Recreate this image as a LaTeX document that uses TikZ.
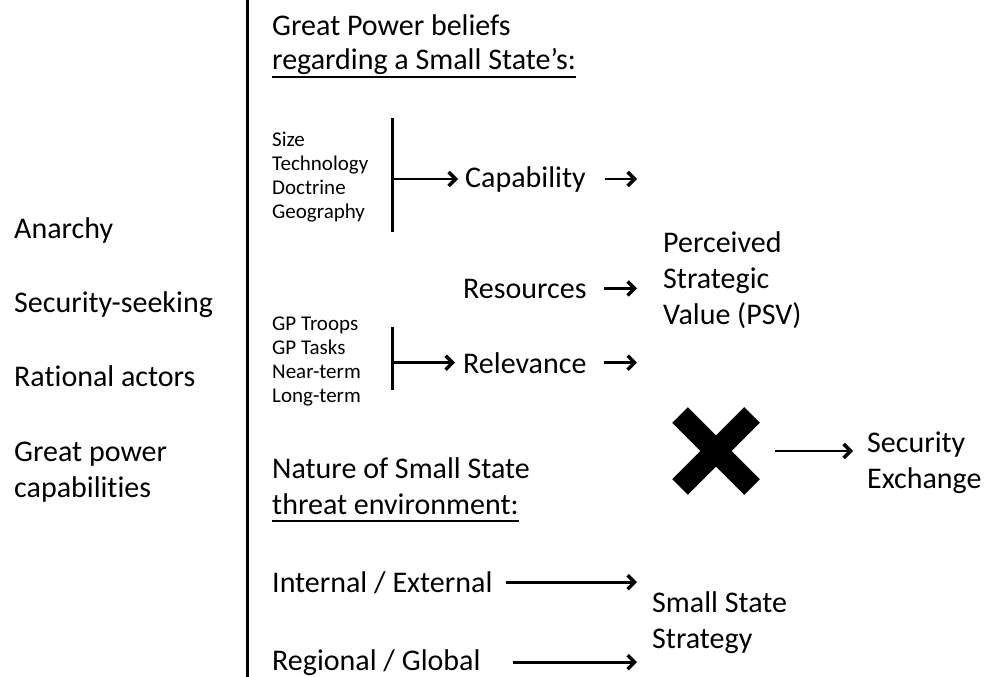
\documentclass[tikz,border=0pt]{standalone}
\usepackage{fontspec}
\setmainfont{Carlito}[Ligatures=NoCommon]
\usetikzlibrary{arrows.meta}
\usetikzlibrary{shapes.misc}

\begin{document}
\begin{tikzpicture}[x=1pt,y=-1pt,>={Straight Barb[length=7pt,width=14pt,line width=3.4pt]},
  txt/.style={anchor=base west,inner sep=0pt,align=left,font=\fontsize{30}{36}\selectfont},
  sml/.style={anchor=base west,inner sep=0pt,align=left,font=\fontsize{21}{24}\selectfont},
  conn/.style={line width=2.8pt,->},
  bar/.style={line width=3pt},
  uline/.style={line width=1.5pt}]
\useasboundingbox (0,0) rectangle (991,677);
%divider
\coordinate (divtop) at (247,0);
\coordinate (divbot) at (247,677);
\draw [bar] (divtop) -- (divbot);
%assumptions (multi-line nodes sit on their last baseline)
\node [txt] (anarchy) at (14,238) {Anarchy};
\node [txt] (secseek) at (14,312) {Security-seeking};
\node [txt] (rational) at (14,386) {Rational actors};
\node [txt] (gpcap) at (14,497) {Great power\\capabilities};
%beliefs
\node [txt] (gpbel) at (272,36) {Great Power beliefs};
\node [txt] (regard) at (272,70) {regarding a Small State’s:};
\draw [uline] ([yshift=-7pt]regard.base west) -- ([yshift=-7pt]regard.base east);
\node [sml] (capfac) at (272,218) {Size\\Technology\\Doctrine\\Geography};
\node [txt] (cap) at (465,187) {Capability};
\node [txt] (res) at (463,298) {Resources};
\node [sml] (relfac) at (272,402) {GP Troops\\GP Tasks\\Near-term\\Long-term};
\node [txt] (rel) at (463,373) {Relevance};
\node [txt] (psv) at (663,324) {Perceived\\Strategic\\Value (PSV)};
\coordinate (brkatop) at (392,118);
\coordinate (brkabot) at (392,232);
\coordinate (brkbtop) at (392,327);
\coordinate (brkbbot) at (392,390);
\coordinate (psvin) at (637,0);
\draw [bar] (brkatop) -- (brkabot);
\draw [bar] (brkbtop) -- (brkbbot);
\draw [conn, shorten >=7pt] (brkatop |- cap.west) -- (cap.west);
\draw [conn, shorten >=8pt] (brkbtop |- rel.west) -- (rel.west);
\draw [conn, shorten <=19pt] (cap.east) -- (cap.east -| psvin);
\draw [conn, shorten <=17pt] (res.east) -- (res.east -| psvin);
\draw [conn, shorten <=17pt] (rel.east) -- (rel.east -| psvin);
%exchange
\node [cross out, draw, line width=22pt, minimum size=50pt] (cross) at (716,451) {};
\node [txt] (secex) at (867,488) {Security\\Exchange};
\draw [conn, shorten <=23pt, shorten >=14pt] (cross.east) -- (cross.east -| secex.west);
%threat environment
\node [txt] (nature) at (272,478) {Nature of Small State};
\node [txt] (threat) at (272,514) {threat environment:};
\draw [uline] ([yshift=-7pt]threat.base west) -- ([yshift=-7pt]threat.base east);
\node [txt] (intext) at (272,592) {Internal / External};
\node [txt] (regglob) at (272,670) {Regional / Global};
\node [txt] (sss) at (652,648) {Small State\\Strategy};
\coordinate (sssin) at (637,0);
\draw [conn, shorten <=13pt] (intext.east) -- (intext.east -| sssin);
\draw [conn, shorten <=32pt] (regglob.east) -- (regglob.east -| sssin);
\end{tikzpicture}
\end{document}
